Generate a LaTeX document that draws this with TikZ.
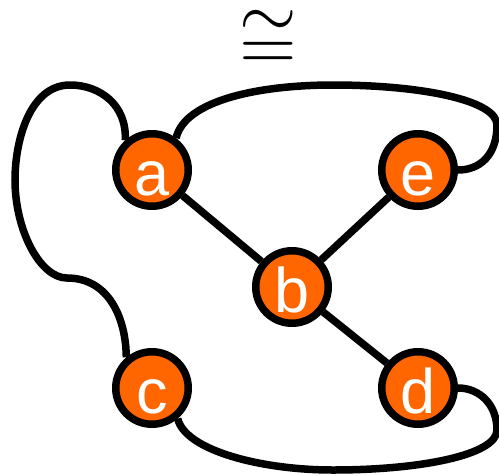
\documentclass[tikz,border=0pt]{standalone}
\usepackage{fontspec}
\usepackage{graphicx}
\newfontfamily\nodefont{Liberation Sans}
\definecolor{vorange}{RGB}{255,102,0}
\begin{document}
\begin{tikzpicture}[x=1pt,y=-1pt,
  vert/.style={circle,draw=black,fill=vorange,line width=7.5pt,inner sep=0pt,
    minimum size=72.5pt,text=white,font=\nodefont\fontsize{63}{70}\selectfont,
    text height=50pt,text depth=0pt},
  edge/.style={line width=7.5pt,draw=black}]
\useasboundingbox (0,0) rectangle (499,475);
\node[inner sep=0pt] (iso) at (268,40)
  {\scalebox{7.4}{\vbox{\offinterlineskip\hbox{$\sim$}\kern0.7pt\hbox{$=$}}}};
\node[vert] (a) at (152,170) {a};
\node[vert] (e) at (418,170) {e};
\node[vert] (b) at (292,287) {b};
\node[vert] (c) at (152,388) {c};
\node[vert] (d) at (418,388) {d};
\draw[edge] (a) -- (b);
\draw[edge] (b) -- (e);
\draw[edge] (b) -- (d);
\draw[edge] (a.132) .. controls (127,105) and (100,85) .. (70,85)
  .. controls (30,85) and (15,140) .. (15,180)
  .. controls (15,230) and (40,278) .. (67,278)
  .. controls (110,278) and (126,320) .. (c.130);
\draw[edge] (a.53) .. controls (185,100) and (260,85) .. (333,85)
  .. controls (420,85) and (497,100) .. (497,125)
  .. controls (497,155) and (480,170) .. (e.east);
\draw[edge] (c.-50) .. controls (185,450) and (260,470) .. (333,470)
  .. controls (420,470) and (497,455) .. (497,430)
  .. controls (497,405) and (480,388) .. (d.east);
\end{tikzpicture}
\end{document}
